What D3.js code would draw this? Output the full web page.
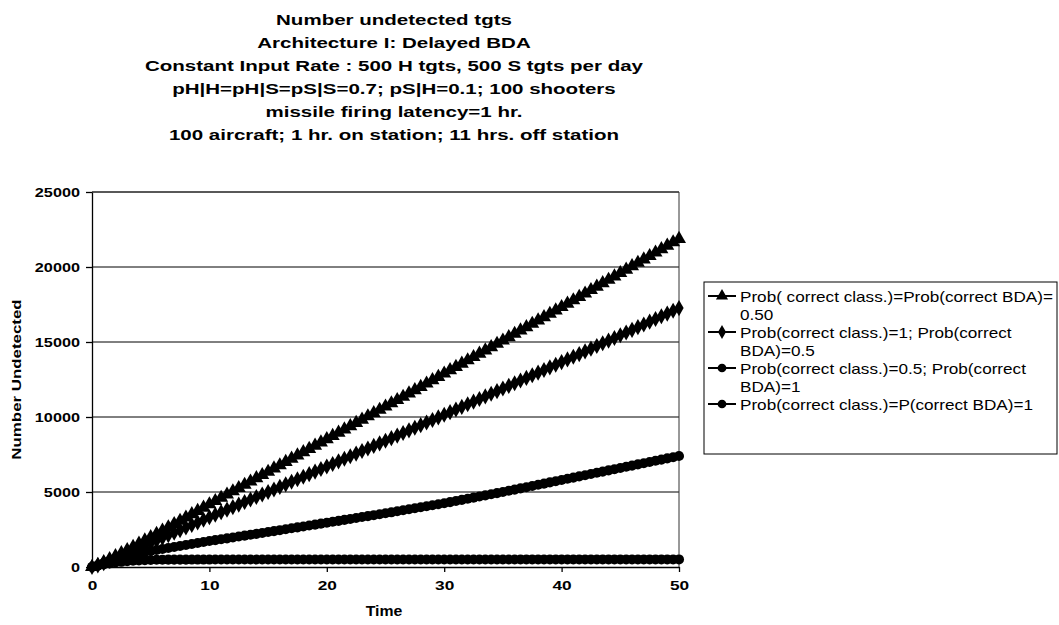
<!DOCTYPE html>
<html>
<head>
  <title>Number undetected tgts</title>
  <script src="https://d3js.org/d3.v7.min.js"></script>
  <style>
    body { margin: 0; background: #fff; }
    svg { font-family: "Liberation Sans", Arial, sans-serif; }
    .grid line { stroke: #000; stroke-width: 1px; }
    .axis text { font-weight: bold; }
    .series { fill: none; stroke: #000; stroke-width: 3px; }
  </style>
</head>
<body>
  <svg width="1059" height="625"></svg>

  <script>
    const titleLines = [
      "Number undetected tgts",
      "Architecture I: Delayed BDA",
      "Constant Input Rate : 500 H tgts, 500 S tgts per day",
      "pH|H=pH|S=pS|S=0.7; pS|H=0.1; 100 shooters",
      "missile firing latency=1 hr.",
      "100 aircraft; 1 hr. on station; 11 hrs. off station"
    ];

    const xTicks = [0, 10, 20, 30, 40, 50];
    const yTicks = [0, 5000, 10000, 15000, 20000, 25000];

    // time steps 0, 0.5, ... 50
    const time = d3.range(0, 50.25, 0.5);

    const probHalf = [
      0, 140, 330, 520, 720, 925, 1130, 1340, 1555, 1770,
      1990, 2210, 2425, 2645, 2865, 3085, 3300, 3520, 3740, 3960,
      4180, 4395, 4615, 4830, 5050, 5265, 5485, 5700, 5920, 6135,
      6350, 6570, 6785, 7005, 7220, 7440, 7655, 7870, 8090, 8305,
      8520, 8740, 8955, 9175, 9390, 9610, 9825, 10045, 10260, 10480,
      10700, 10915, 11130, 11350, 11570, 11790, 12010, 12235, 12455, 12675,
      12900, 13120, 13340, 13560, 13780, 14000, 14220, 14440, 14660, 14880,
      15100, 15320, 15545, 15770, 15990, 16215, 16440, 16660, 16885, 17105,
      17330, 17555, 17780, 18010, 18235, 18465, 18690, 18920, 19145, 19375,
      19600, 19825, 20055, 20280, 20510, 20735, 20965, 21190, 21420, 21645,
      21870
    ];

    const classOneBdaHalf = [
      0, 110, 260, 420, 580, 750, 920, 1090, 1260, 1430,
      1600, 1770, 1945, 2115, 2290, 2460, 2635, 2805, 2975, 3150,
      3320, 3490, 3655, 3825, 3995, 4160, 4330, 4500, 4665, 4835,
      5000, 5170, 5340, 5510, 5680, 5850, 6020, 6190, 6360, 6530,
      6700, 6870, 7045, 7215, 7385, 7560, 7730, 7900, 8075, 8245,
      8415, 8590, 8760, 8935, 9110, 9280, 9455, 9630, 9800, 9975,
      10150, 10325, 10500, 10675, 10850, 11025, 11200, 11375, 11550, 11725,
      11900, 12075, 12250, 12430, 12605, 12780, 12955, 13130, 13310, 13485,
      13660, 13840, 14020, 14195, 14375, 14555, 14735, 14915, 15090, 15270,
      15450, 15630, 15810, 15990, 16170, 16355, 16535, 16715, 16895, 17080,
      17260
    ];

    const classHalfBdaOne = [
      0, 110, 260, 420, 560, 680, 780, 860, 930, 1000,
      1070, 1135, 1200, 1265, 1335, 1400, 1465, 1535, 1600, 1665,
      1730, 1790, 1850, 1910, 1970, 2030, 2090, 2150, 2210, 2270,
      2330, 2390, 2455, 2515, 2580, 2640, 2700, 2765, 2825, 2890,
      2950, 3015, 3075, 3140, 3200, 3265, 3330, 3390, 3455, 3515,
      3580, 3645, 3715, 3780, 3850, 3915, 3985, 4050, 4115, 4185,
      4250, 4325, 4400, 4475, 4550, 4625, 4700, 4775, 4850, 4925,
      5000, 5080, 5160, 5240, 5320, 5400, 5480, 5560, 5640, 5720,
      5800, 5880, 5960, 6040, 6120, 6200, 6280, 6360, 6440, 6520,
      6600, 6680, 6760, 6840, 6920, 7000, 7080, 7160, 7240, 7320,
      7400
    ];

    const bothOne = [
      0, 90, 170, 240, 300, 345, 385, 415, 440, 460,
      470, 480, 488, 490, 492, 493, 494, 495, 495, 496,
      496, 497, 497, 497, 498, 498, 498, 498, 499, 499,
      499, 499, 499, 500, 500, 500, 500, 500, 500, 500,
      500, 500, 501, 501, 501, 501, 501, 501, 501, 501,
      502, 502, 502, 502, 502, 502, 502, 502, 502, 502,
      502, 503, 503, 503, 503, 503, 503, 503, 503, 503,
      503, 503, 503, 504, 504, 504, 504, 504, 504, 504,
      504, 504, 504, 504, 504, 504, 505, 505, 505, 505,
      505, 505, 505, 505, 505, 505, 505, 505, 505, 505,
      505
    ];

    const seriesNames = [
      ["Prob( correct class.)=Prob(correct BDA)=", "0.50"],
      ["Prob(correct class.)=1; Prob(correct", "BDA)=0.5"],
      ["Prob(correct class.)=0.5; Prob(correct", "BDA)=1"],
      ["Prob(correct class.)=P(correct BDA)=1"]
    ];
    const seriesValues = [probHalf, classOneBdaHalf, classHalfBdaOne, bothOne];
    const seriesMarkers = [d3.symbolTriangle, d3.symbolDiamond, d3.symbolCircle, d3.symbolCircle];
    const markerSizes = [85, 75, 80, 80];

    const svg = d3.select("svg");
    const margin = { top: 192, right: 380, bottom: 58, left: 92 };
    const width = 1059;
    const height = 625;

    // scanned original has horizontally stretched lettering
    function stretch(sel, k) {
      sel.each(function () {
        const w = this.getComputedTextLength();
        d3.select(this)
          .attr("textLength", w * k)
          .attr("lengthAdjust", "spacingAndGlyphs");
      });
    }

    const x = d3.scaleLinear()
      .domain([0, 50])
      .range([margin.left, width - margin.right]);

    const y = d3.scaleLinear()
      .domain([0, 25000])
      .range([height - margin.bottom, margin.top]);

    // Title
    const title = svg.append("g")
      .selectAll("text")
      .data(titleLines)
      .join("text")
      .attr("x", 394)
      .attr("y", (d, i) => 25 + i * 23)
      .attr("text-anchor", "middle")
      .attr("font-weight", "bold")
      .attr("font-size", "15px")
      .text(d => d);
    const titleK = 498 / title.nodes()[2].getComputedTextLength();
    stretch(title, titleK);

    // Gridlines
    svg.append("g")
      .attr("class", "grid")
      .selectAll("line")
      .data(yTicks.slice(1))
      .join("line")
      .attr("x1", x(0))
      .attr("x2", x(50))
      .attr("y1", d => y(d))
      .attr("y2", d => y(d));

    // plot border (top/right)
    svg.append("path")
      .attr("d", `M${x(0)},${y(25000)}H${x(50)}V${y(0)}`)
      .attr("fill", "none")
      .attr("stroke", "#333")
      .attr("stroke-width", 1);

    // Axes
    const xAxis = svg.append("g")
      .attr("class", "axis")
      .attr("transform", `translate(0,${y(0)})`)
      .call(d3.axisBottom(x).tickValues(xTicks).tickSize(5).tickPadding(8).tickSizeOuter(0));
    xAxis.selectAll("text").attr("font-size", "13.5px");

    const yAxis = svg.append("g")
      .attr("class", "axis")
      .attr("transform", `translate(${x(0)},0)`)
      .call(d3.axisLeft(y).tickValues(yTicks).tickSize(6).tickPadding(6).tickSizeOuter(0).tickFormat(d3.format("d")));
    yAxis.selectAll("text").attr("font-size", "12.5px");

    svg.selectAll(".axis path, .axis line").attr("stroke", "#000").attr("stroke-width", 1.3);
    svg.selectAll(".axis text").attr("fill", "#000");
    stretch(xAxis.selectAll("text"), 1.28);
    stretch(yAxis.selectAll("text"), 1.3);

    // Axis titles
    const xTitle = svg.append("text")
      .attr("x", 384)
      .attr("y", 616)
      .attr("text-anchor", "middle")
      .attr("font-weight", "bold")
      .attr("font-size", "14px")
      .text("Time");
    stretch(xTitle, 1.13);

    const yTitle = svg.append("text")
      .attr("transform", `translate(21,${y(12500)}) rotate(-90)`)
      .attr("text-anchor", "middle")
      .attr("font-weight", "bold")
      .attr("font-size", "13.5px")
      .text("Number Undetected");
    stretch(yTitle, 1.25);

    // Series
    const line = d3.line()
      .x((d, i) => x(time[i]))
      .y(d => y(d));

    seriesValues.forEach((vals, s) => {
      svg.append("path")
        .datum(vals)
        .attr("class", "series")
        .attr("d", line);

      svg.append("g")
        .selectAll("path")
        .data(vals)
        .join("path")
        .attr("transform", (d, i) => `translate(${x(time[i])},${y(d)})`)
        .attr("d", d3.symbol().type(seriesMarkers[s]).size(markerSizes[s]))
        .attr("fill", "#000");
    });

    // Legend
    const legend = svg.append("g");
    legend.append("rect")
      .attr("x", 704)
      .attr("y", 282)
      .attr("width", 353)
      .attr("height", 172)
      .attr("fill", "#fff")
      .attr("stroke", "#000")
      .attr("stroke-width", 1);

    const rowY = [296, 332, 368, 404];
    const legendTexts = [];
    seriesNames.forEach((lines, s) => {
      const g = legend.append("g").attr("transform", `translate(0,${rowY[s]})`);
      g.append("line")
        .attr("x1", 708).attr("x2", 736)
        .attr("y1", 0).attr("y2", 0)
        .attr("stroke", "#000").attr("stroke-width", 2);
      g.append("path")
        .attr("transform", "translate(722,0)")
        .attr("d", d3.symbol().type(seriesMarkers[s]).size(markerSizes[s] * 0.75))
        .attr("fill", "#000");
      g.selectAll("text")
        .data(lines)
        .join("text")
        .attr("x", 740)
        .attr("y", (d, i) => 5.5 + i * 18)
        .attr("font-size", "15px")
        .text(d => d)
        .each(function () { legendTexts.push(this); });
    });
    const legendK = 313 / legendTexts[0].getComputedTextLength();
    stretch(d3.selectAll(legendTexts), legendK);
  </script>
</body>
</html>
